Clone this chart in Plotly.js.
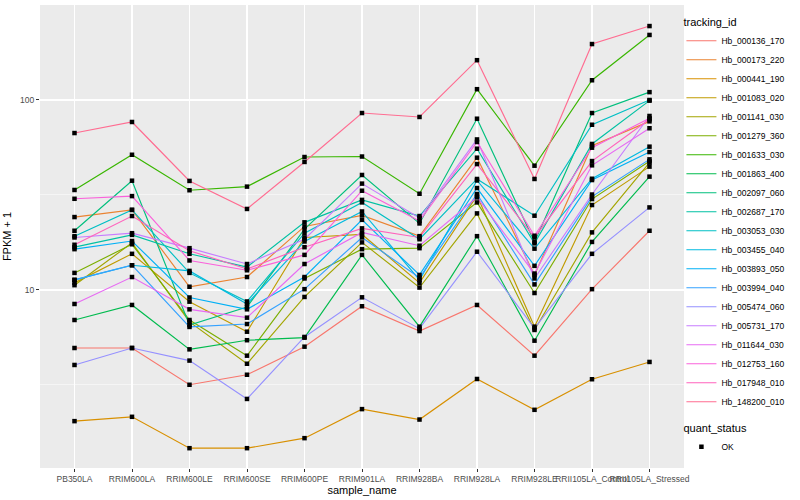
<!DOCTYPE html>
<html>
<head>
<meta charset="utf-8">
<script src="https://cdn.plot.ly/plotly-3.0.1.min.js"></script>
<style>html,body{margin:0;padding:0;background:#fff}#chart{width:800px;height:500px}</style>
</head>
<body>
<div id="chart"></div>
<script>
const samples = ['PB350LA','RRIM600LA','RRIM600LE','RRIM600SE','RRIM600PE','RRIM901LA','RRIM928BA','RRIM928LA','RRIM928LE','RRII105LA_Control','RRII105LA_Stressed'];

const trackingIds = ['Hb_000136_170','Hb_000173_220','Hb_000441_190','Hb_001083_020','Hb_001141_030','Hb_001279_360','Hb_001633_030','Hb_001863_400','Hb_002097_060','Hb_002687_170','Hb_003053_030','Hb_003455_040','Hb_003893_050','Hb_003994_040','Hb_005474_060','Hb_005731_170','Hb_011644_030','Hb_012753_160','Hb_017948_010','Hb_148200_010'];

// FPKM + 1 values, one array per tracking_id, in sample order
const hb_000136_170 = [4.95, 4.95, 3.17, 3.58, 5.03, 8.21, 6.08, 8.34, 4.51, 10.1, 20.5];
const hb_000173_220 = [24.2, 26.4, 10.4, 11.7, 21.6, 24.7, 19.2, 49.7, 12.0, 57.5, 77.2];
const hb_000441_190 = [2.04, 2.15, 1.47, 1.47, 1.66, 2.36, 2.08, 3.40, 2.34, 3.39, 4.18];
const hb_001083_020 = [10.9, 15.5, 8.68, 6.03, 18.9, 19.6, 10.9, 31.4, 6.41, 28.0, 44.6];
const hb_001141_030 = [10.6, 17.7, 6.79, 4.09, 9.19, 17.8, 10.3, 25.3, 6.16, 20.1, 46.8];
const hb_001279_360 = [12.3, 17.4, 6.95, 4.51, 11.5, 16.4, 16.6, 28.9, 9.64, 30.1, 47.6];
const hb_001633_030 = [33.6, 51.5, 33.5, 35.0, 50.1, 50.4, 32.1, 114, 45.1, 127, 220];
const hb_001863_400 = [6.95, 8.34, 4.87, 5.44, 5.61, 15.3, 6.41, 19.2, 5.41, 17.9, 39.5];
const hb_002097_060 = [20.5, 37.6, 6.54, 8.14, 20.9, 40.3, 22.4, 79.7, 17.9, 85.4, 110];
const hb_002687_170 = [16.8, 19.5, 15.5, 13.2, 22.7, 29.8, 24.5, 55.4, 17.6, 58.7, 99.2];
const hb_003053_030 = [19.2, 26.4, 12.3, 8.70, 19.9, 28.9, 18.5, 38.4, 24.6, 74.1, 100];
const hb_003455_040 = [11.3, 13.5, 12.6, 8.44, 18.0, 25.9, 11.3, 37.7, 16.5, 38.5, 56.8];
const hb_003893_050 = [16.4, 18.1, 9.13, 7.91, 11.7, 23.4, 12.0, 34.4, 13.4, 37.9, 53.2];
const hb_003994_040 = [11.3, 13.5, 6.39, 6.62, 10.1, 18.9, 11.6, 32.0, 10.7, 31.0, 48.7];
const hb_005474_060 = [4.03, 4.95, 4.25, 2.67, 5.66, 9.15, 6.26, 15.9, 6.29, 15.5, 27.2];
const hb_005731_170 = [18.9, 19.9, 16.6, 13.7, 18.5, 36.3, 23.9, 62.0, 11.5, 31.8, 82.4];
const hb_011644_030 = [8.44, 11.7, 7.91, 7.15, 13.7, 20.1, 17.1, 30.7, 12.2, 45.3, 71.0];
const hb_012753_160 = [30.2, 31.2, 14.3, 12.7, 15.3, 33.3, 23.1, 60.1, 19.3, 56.1, 80.1];
const hb_017948_010 = [17.3, 24.5, 16.1, 12.9, 16.8, 21.1, 18.9, 46.0, 18.9, 47.7, 79.1];
const hb_148200_010 = [67.0, 76.6, 37.5, 26.7, 47.2, 85.4, 81.4, 162, 38.4, 197, 245];

const seriesValues = [hb_000136_170, hb_000173_220, hb_000441_190, hb_001083_020, hb_001141_030, hb_001279_360, hb_001633_030, hb_001863_400, hb_002097_060, hb_002687_170, hb_003053_030, hb_003455_040, hb_003893_050, hb_003994_040, hb_005474_060, hb_005731_170, hb_011644_030, hb_012753_160, hb_017948_010, hb_148200_010];

const colors = ['#F8766D','#EA8331','#D89000','#C09B00','#A3A500','#7CAE00','#39B600','#00BB4E','#00BF7D','#00C1A3','#00BFC4','#00BAE0','#00B0F6','#35A2FF','#9590FF','#C77CFF','#E76BF3','#FA62DB','#FF62BC','#FF6C91'];

const quantStatus = ['OK'];

const traces = trackingIds.map((id, i) => ({
  type: 'scatter', mode: 'lines', name: id,
  x: samples, y: seriesValues[i],
  line: {color: colors[i], width: 1.15},
  legend: 'legend', hoverinfo: 'skip'
}));

const px = [], py = [];
seriesValues.forEach(vals => vals.forEach((v, j) => { px.push(samples[j]); py.push(v); }));
traces.push({
  type: 'scatter', mode: 'markers', name: quantStatus[0],
  x: px, y: py,
  marker: {color: '#000000', symbol: 'square', size: 4.5},
  legend: 'legend2', hoverinfo: 'skip'
});

const font = 'Liberation Sans, Arial, Helvetica, sans-serif';
const layout = {
  width: 800, height: 500,
  margin: {l: 40, r: 116, t: 5, b: 32},
  paper_bgcolor: '#ffffff', plot_bgcolor: '#EBEBEB',
  font: {family: font, size: 9, color: '#4D4D4D'},
  showlegend: true,
  xaxis: {
    type: 'category', categoryorder: 'array', categoryarray: samples,
    range: [-0.6, 10.6], tickangle: 0,
    showgrid: true, gridcolor: '#FFFFFF', gridwidth: 1.1,
    zeroline: false, showline: false,
    ticks: 'outside', ticklen: 3, tickcolor: '#333333', tickwidth: 1,
    tickfont: {family: font, size: 8.5, color: '#4D4D4D'},
    title: {text: 'sample_name', font: {family: font, size: 11, color: '#000000'}, standoff: 3}
  },
  yaxis: {
    type: 'log', range: [0.063, 2.50],
    tickmode: 'array', tickvals: [10, 100], ticktext: ['10', '100'],
    showgrid: true, gridcolor: '#FFFFFF', gridwidth: 1.1,
    minor: {tickmode: 'array', tickvals: [Math.sqrt(10), Math.sqrt(1000), Math.sqrt(100000)], showgrid: true, gridcolor: '#FFFFFF', gridwidth: 0.5, ticks: ''},
    zeroline: false, showline: false,
    ticks: 'outside', ticklen: 3, tickcolor: '#333333', tickwidth: 1,
    tickfont: {family: font, size: 8.5, color: '#4D4D4D'},
    title: {text: 'FPKM + 1', font: {family: font, size: 11, color: '#000000'}, standoff: 6}
  },
  legend: {
    title: {text: 'tracking_id', font: {family: font, size: 11, color: '#000000'}},
    xref: 'paper', yref: 'paper', x: 0.996, y: 0.985, xanchor: 'left', yanchor: 'top',
    font: {family: font, size: 8.5, color: '#000000'},
    bgcolor: 'rgba(0,0,0,0)', traceorder: 'normal', itemwidth: 30
  },
  legend2: {
    title: {text: 'quant_status', font: {family: font, size: 11, color: '#000000'}},
    xref: 'paper', yref: 'paper', x: 0.996, y: 0.108, xanchor: 'left', yanchor: 'top',
    font: {family: font, size: 8.5, color: '#000000'},
    bgcolor: 'rgba(0,0,0,0)'
  }
};

Plotly.newPlot('chart', traces, layout, {displayModeBar: false, staticPlot: true});
</script>
</body>
</html>
